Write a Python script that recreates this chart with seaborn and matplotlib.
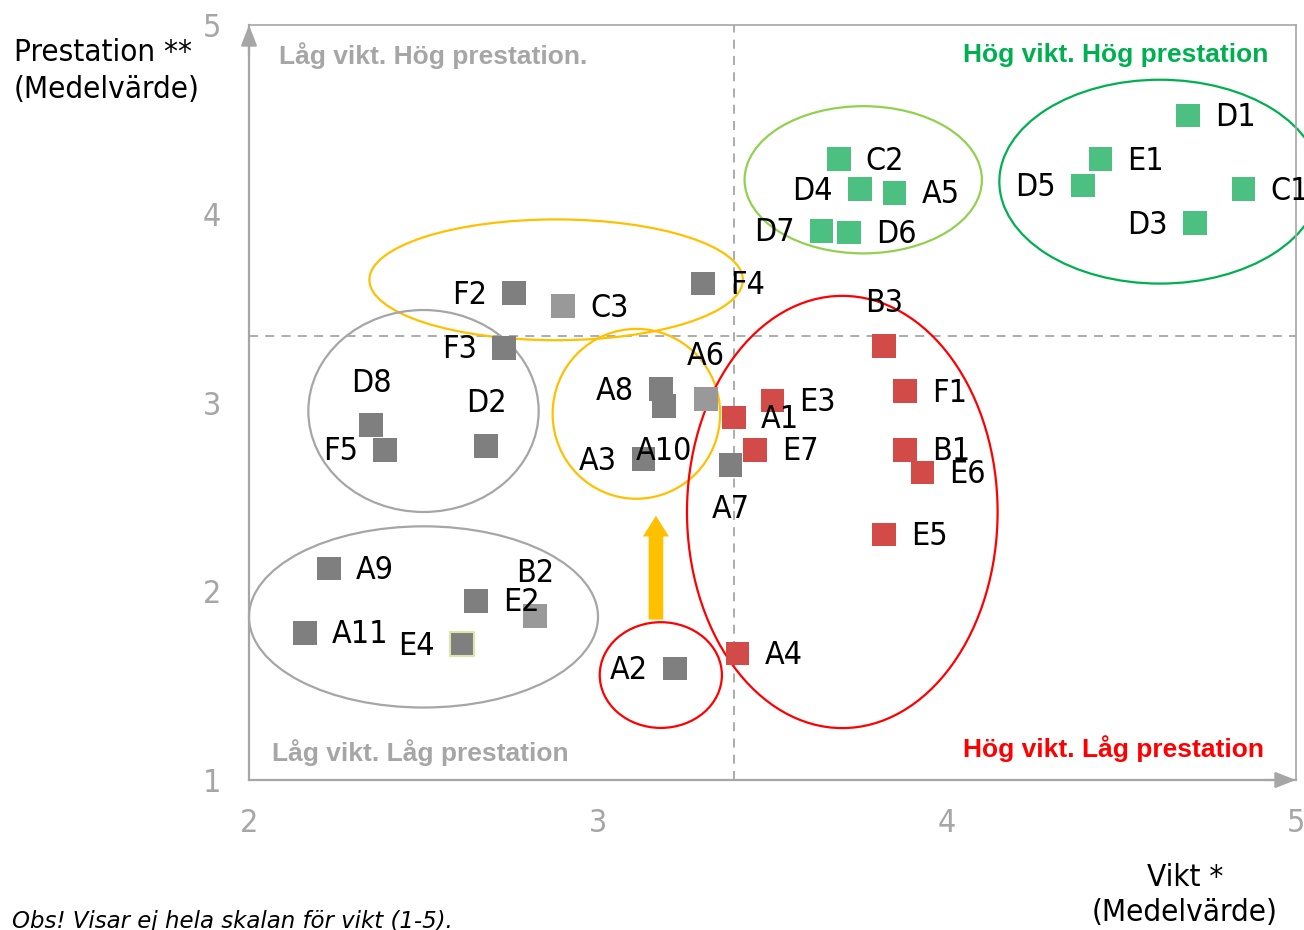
"""
Vikt / prestation: matris med fyra kvadranter
"""

import matplotlib
matplotlib.use("Agg")
import matplotlib.pyplot as plt
import pandas as pd
import seaborn as sns
from matplotlib import font_manager as fm
from matplotlib.patches import Ellipse

# --- data ---
namn = ["D1", "E1", "D5", "C1", "D3", "C2", "D4", "A5", "D7", "D6",
        "F2", "C3", "F4", "F3", "B3", "D8", "F5", "D2", "A8", "A10",
        "A3", "A6", "A7", "A1", "E3", "E7", "F1", "B1", "E6", "E5",
        "A4", "A2", "A9", "A11", "E4", "E2", "B2"]
vikt = [4.69, 4.44, 4.39, 4.85, 4.71, 3.69, 3.75, 3.85, 3.64, 3.72,
        2.76, 2.90, 3.30, 2.73, 3.82, 2.35, 2.39, 2.68, 3.18, 3.19,
        3.13, 3.31, 3.38, 3.39, 3.50, 3.45, 3.88, 3.88, 3.93, 3.82,
        3.40, 3.22, 2.23, 2.16, 2.61, 2.65, 2.82]
prestation = [4.52, 4.29, 4.15, 4.13, 3.95, 4.29, 4.13, 4.11, 3.91, 3.90,
              3.58, 3.51, 3.63, 3.29, 3.30, 2.88, 2.75, 2.77, 3.07, 2.98,
              2.70, 3.02, 2.67, 2.92, 3.01, 2.75, 3.06, 2.75, 2.63, 2.30,
              1.67, 1.59, 2.12, 1.78, 1.72, 1.95, 1.87]
grupp = ["hog", "hog", "hog", "hog", "hog", "hog", "hog", "hog", "hog", "hog",
         "mork", "ljus", "mork", "mork", "rod", "mork", "mork", "mork", "mork", "mork",
         "mork", "ljus", "mork", "rod", "rod", "rod", "rod", "rod", "rod", "rod",
         "rod", "mork", "mork", "mork", "mork", "mork", "ljus"]

medel_vikt = 3.39
medel_prestation = 3.35

# grupperingar (ellipser): centrum x, centrum y, bredd, hojd, farg
ringar = [
    (4.61, 4.17, 0.92, 1.08, "#00B050"),
    (3.76, 4.18, 0.68, 0.78, "#92D050"),
    (2.88, 3.65, 1.07, 0.64, "#FFC000"),
    (3.11, 2.94, 0.48, 0.90, "#FFC000"),
    (2.50, 2.955, 0.66, 1.07, "#A6A6A6"),
    (2.50, 1.864, 1.00, 0.96, "#A6A6A6"),
    (3.18, 1.556, 0.35, 0.56, "#FF0000"),
    (3.70, 2.42, 0.89, 2.29, "#FF0000"),
]
pil_x, pil_fran, pil_till = 3.166, 1.85, 2.40

palett = {"hog": "#4CC080", "mork": "#7F7F7F", "ljus": "#999999", "rod": "#D24B48"}
GRA = "#A6A6A6"

# etikettens placering relativt punkten (standard: till hoger)
VANSTER = {"D5", "D3", "D4", "D7", "F2", "F3", "F5", "A8", "A3", "A2", "E4"}
OVANFOR = {"B3", "D8", "D2", "A6", "B2"}
NEDANFOR = {"A10", "A7"}

df = pd.DataFrame({"namn": namn, "vikt": vikt, "prestation": prestation, "grupp": grupp})

sns.set_theme(style="white")
plt.rcParams["font.family"] = ["DejaVu Sans"]

# smal font om den finns (originalet anvander en smal sans-serif)
smal = None
for f in fm.fontManager.ttflist:
    if f.name.startswith("DejaVu Sans") and f.style == "normal" and f.weight in (400, "normal") \
            and ("Condensed" in f.name or f.stretch == "condensed" or "Condensed" in f.fname):
        smal = f.fname
        break
if smal:
    def etikett_font(size):
        return fm.FontProperties(fname=smal, size=size)
    STOR = 23
else:
    def etikett_font(size):
        return fm.FontProperties(family="DejaVu Sans", size=size)
    STOR = 20

fig = plt.figure(figsize=(13.04, 9.30), dpi=100)
ax = fig.add_axes([249 / 1304, 1 - 780 / 930, 1047 / 1304, 755 / 930])

# mittlinjer
ax.axvline(medel_vikt, color=GRA, lw=1.3, ls=(0, (5, 4)), zorder=1)
ax.axhline(medel_prestation, color=GRA, lw=1.3, ls=(0, (5, 4)), zorder=1)

sns.scatterplot(data=df, x="vikt", y="prestation", hue="grupp", palette=palett,
                marker="s", s=290, linewidth=0, legend=False, ax=ax, zorder=3)

# E4 har en ljus kant
e4 = df[df["namn"] == "E4"]
ax.scatter(e4["vikt"], e4["prestation"], marker="s", s=290, color=palett["mork"],
           edgecolor="#DCE6A8", linewidth=1.5, zorder=4)

for _, rad in df.iterrows():
    if rad["namn"] in VANSTER:
        off, ha = (-27, -2), "right"
    elif rad["namn"] in OVANFOR:
        off, ha = (0, 42), "center"
    elif rad["namn"] in NEDANFOR:
        off, ha = (0, -45), "center"
    else:
        off, ha = (27, -2), "left"
    ax.annotate(rad["namn"], (rad["vikt"], rad["prestation"]), xytext=off,
                textcoords="offset pixels", ha=ha, va="center",
                fontproperties=etikett_font(STOR), color="black", zorder=5)

for cx, cy, w, h, farg in ringar:
    ax.add_patch(Ellipse((cx, cy), w, h, facecolor="none", edgecolor=farg,
                         lw=1.6, zorder=2, clip_on=False))

ax.arrow(pil_x, pil_fran, 0, pil_till - pil_fran, width=0.042, head_width=0.075,
         head_length=0.11, length_includes_head=True, color="#FFC000", lw=0, zorder=2)

# axlar
ax.set_xlim(2, 5)
ax.set_ylim(1, 5)
ax.set_xticks([2, 3, 4, 5])
ax.set_yticks([1, 2, 3, 4, 5])
ax.set_xlabel("")
ax.set_ylabel("")
ax.tick_params(length=0, pad=20, labelcolor=GRA)
for lab in ax.get_xticklabels() + ax.get_yticklabels():
    lab.set_fontproperties(etikett_font(STOR))
for side, sp in ax.spines.items():
    sp.set_visible(True)
    sp.set_color(GRA)
    sp.set_linewidth(1.6 if side in ("left", "bottom") else 1.2)

pil = dict(arrowstyle="-|>,head_length=0.9,head_width=0.35", color=GRA, lw=1.6,
           mutation_scale=14, shrinkA=0, shrinkB=0)
ax.annotate("", xy=(0, 1), xytext=(0, 0.96), xycoords="axes fraction", arrowprops=pil)
ax.annotate("", xy=(1, 0), xytext=(0.97, 0), xycoords="axes fraction", arrowprops=pil)

# kvadrantrubriker
rubrik = dict(transform=ax.transAxes, va="center", fontsize=19, fontweight="bold",
              family="Liberation Sans")
ax.text(0.029, 0.960, "Låg vikt. Hög prestation.", ha="left", color=GRA, **rubrik)
ax.text(0.974, 0.960, "Hög vikt. Hög prestation", ha="right", color="#00B050", **rubrik)
ax.text(0.022, 0.036, "Låg vikt. Låg prestation", ha="left", color=GRA, **rubrik)
ax.text(0.969, 0.041, "Hög vikt. Låg prestation", ha="right", color="#FF0000", **rubrik)

fig.text(14 / 1304, 1 - 71 / 930, "Prestation **\n(Medelvärde)", ha="left", va="center",
         fontproperties=etikett_font(22.5), linespacing=1.38, color="black")
fig.text(1185 / 1304, 1 - 895 / 930, "Vikt *\n(Medelvärde)", ha="center", va="center",
         fontproperties=etikett_font(22.5), linespacing=1.28, color="black")
fig.text(12 / 1304, 1 - 921 / 930, "Obs! Visar ej hela skalan för vikt (1-5).", ha="left",
         va="center", fontsize=16.5, style="italic", color="black")

fig.savefig("out.png", dpi=100)
